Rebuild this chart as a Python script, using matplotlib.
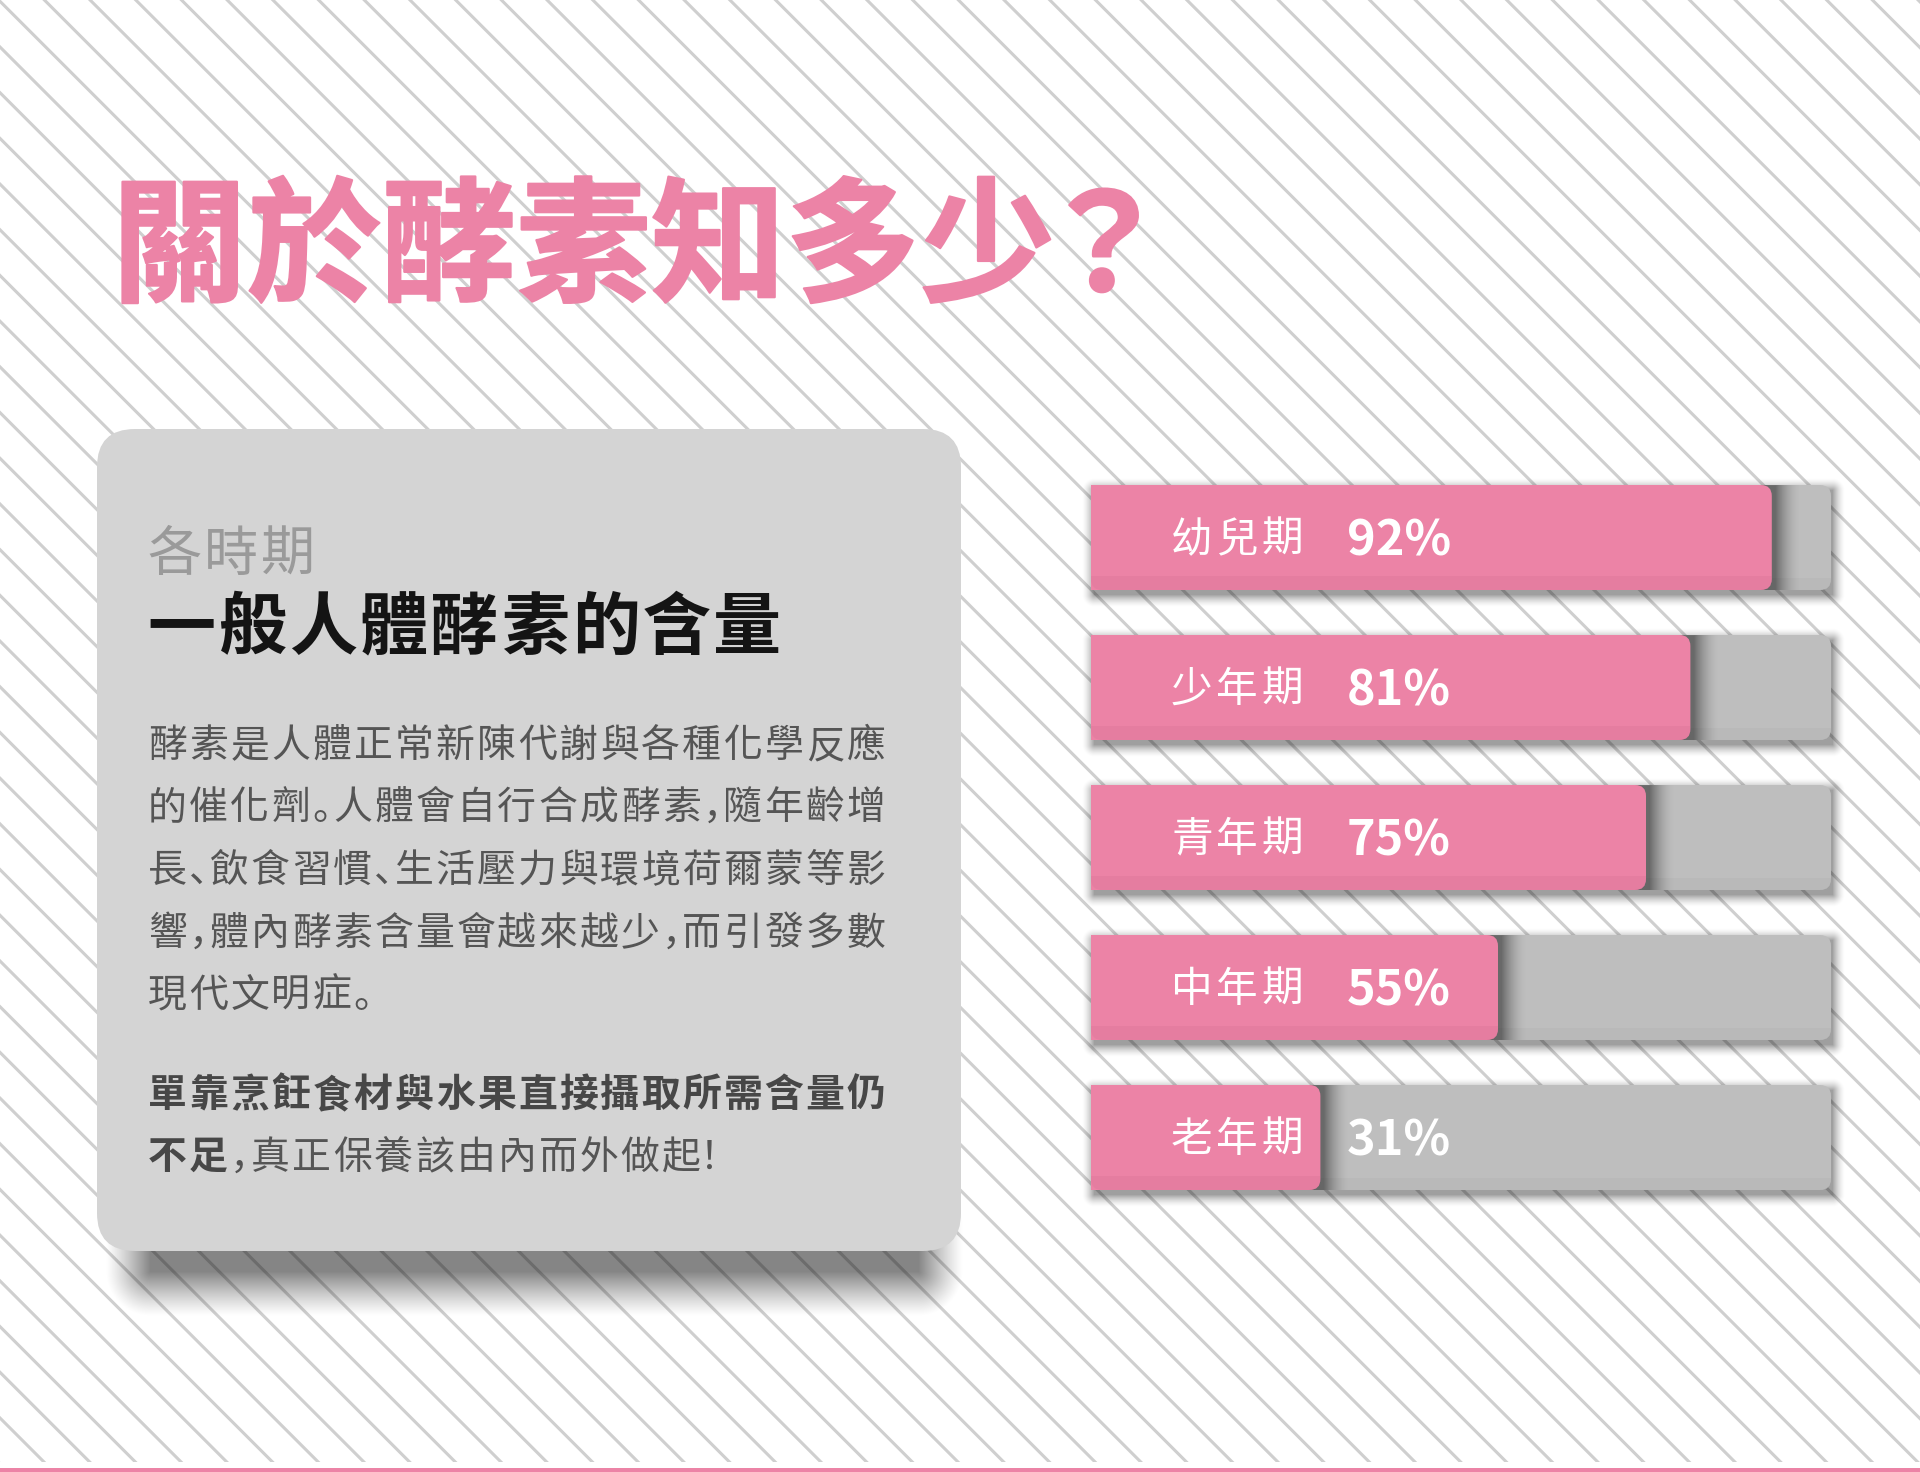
import numpy as np
import matplotlib
matplotlib.use("Agg")
import matplotlib.pyplot as plt
from matplotlib.patches import FancyBboxPatch, Rectangle
from matplotlib.collections import LineCollection
from matplotlib import transforms
import matplotlib.patheffects as pe

plt.rcParams['font.family'] = ['Noto Sans CJK TC', 'DejaVu Sans']
PUNCT_FAMILY = ['Noto Sans CJK JP', 'DejaVu Sans']

# ---------------- data ----------------
title_main = "關於酵素知多少"
title_mark = "？"
subtitle_small = "各時期"
subtitle_big = "一般人體酵素的含量"
body_lines = [
    "酵素是人體正常新陳代謝與各種化學反應",
    "的催化劑。人體會自行合成酵素，隨年齡增",
    "長、飲食習慣、生活壓力與環境荷爾蒙等影",
    "響，體內酵素含量會越來越少，而引發多數",
    "現代文明症。",
]
bold_line1 = "單靠烹飪食材與水果直接攝取所需含量仍"
bold_line2_bold = "不足"
bold_line2_rest = "，真正保養該由內而外做起！"

categories = ["幼兒期", "少年期", "青年期", "中年期", "老年期"]
values = [92, 81, 75, 55, 31]

PINK = "#EC83A6"
GRAY_BAR = "#BEBEBE"
BOX = "#D4D4D4"
W, H = 1920, 1472
HALF = "，。、！：；"
SHIFT = {"！": -0.32}

fig = plt.figure(figsize=(W / 100, H / 100), dpi=100)
fig.patch.set_facecolor("white")

bg = fig.add_axes([0, 0, 1, 1])
bg.set_xlim(0, W)
bg.set_ylim(H, 0)
bg.axis("off")

# bar axes: occupies pixel x 1091..1831, y 462.5..1212.5
BX0, BX1 = 1091, 1831
BY0, BY1 = 462.5, 1212.5
axb = fig.add_axes([BX0 / W, 1 - BY1 / H, (BX1 - BX0) / W, (BY1 - BY0) / H])
axb.set_xlim(0, 100)
axb.set_ylim(len(categories) - 0.5, -0.5)
axb.axis("off")
axb.patch.set_alpha(0)

# ---------------- background stripes ----------------
segs = []
s = 45.7
c = 47.0 - s * 60
while c < H + s:
    segs.append([(-10, -10 + c), (W + 10, W + 10 + c)])
    c += s
bg.add_collection(LineCollection(segs, colors="#CFCFCF", linewidths=2.2, zorder=0))

# bottom pink line
bg.add_patch(Rectangle((0, 1462), W, 6, color="white", zorder=1, lw=0))
bg.add_patch(Rectangle((0, 1468), W, 5, color=PINK, zorder=1, lw=0))


def soft_shadow(ax, px0, py0, px1, py1, blur, amax, z, color=(0, 0, 0), clip=None, power=1.6):
    """Draw a blurred rectangle given in pixel coords into axes ax."""
    X = np.arange(px0 - blur, px1 + blur + 1, 1.0)
    Y = np.arange(py0 - blur, py1 + blur + 1, 1.0)
    dx = np.maximum(np.maximum(px0 - X, X - px1), 0)
    dy = np.maximum(np.maximum(py0 - Y, Y - py1), 0)
    d = np.hypot(dx[None, :], dy[:, None])
    a = amax * np.clip(1 - d / blur, 0, 1) ** power
    img = np.zeros((len(Y), len(X), 4))
    img[..., 0], img[..., 1], img[..., 2] = color
    img[..., 3] = a
    inv = ax.transData.inverted()
    (l, t) = inv.transform((X[0] - 0.5, H - (Y[0] - 0.5)))
    (r, b) = inv.transform((X[-1] + 0.5, H - (Y[-1] + 0.5)))
    xl, yl = ax.get_xlim(), ax.get_ylim()
    im = ax.imshow(img, extent=[l, r, b, t], origin="upper", zorder=z,
                   interpolation="bilinear", aspect="auto")
    im.set_clip_on(clip is not None)
    if clip is not None:
        im.set_clip_path(clip)
    ax.set_xlim(xl)
    ax.set_ylim(yl)
    return im


# ---------------- gray text box ----------------
box_x0, box_y0, box_x1, box_y1 = 97, 429, 961, 1251
soft_shadow(bg, 150, 1225, 918, 1272, 45, 0.48, 2, power=1.2)
bg.add_patch(FancyBboxPatch((box_x0, box_y0), box_x1 - box_x0, box_y1 - box_y0,
                            boxstyle="round,pad=0,rounding_size=38",
                            fc=BOX, ec="none", zorder=3))


def draw_chars(ax, x, y, text, size, adv, color, weight="normal", transform=None):
    for ch in text:
        kw = {"family": PUNCT_FAMILY} if ch in HALF else {}
        ax.text(x + SHIFT.get(ch, 0) * adv, y, ch, fontsize=size, color=color,
                fontweight=weight, ha="left", va="baseline",
                transform=transform if transform else ax.transData,
                zorder=6, **kw)
        x += adv * (0.5 if ch in HALF else 1.0)
    return x


# title
thick = [pe.withStroke(linewidth=1.6, foreground=PINK)]
bg.text(112, 291, title_main, fontsize=97, fontweight="heavy", color=PINK,
        ha="left", va="baseline", zorder=6, path_effects=thick)
bg.text(1036, 291, title_mark, fontsize=97, fontweight="heavy", color=PINK,
        ha="left", va="baseline", zorder=6, path_effects=thick)

# subtitles
draw_chars(bg, 147, 571, subtitle_small, 39, 57, "#9A9A9A")
draw_chars(bg, 147, 649, subtitle_big, 49, 70.8, "#141414", weight="bold")

# body
body_base = [757, 819, 882, 945, 1007]
for ln, yb in zip(body_lines, body_base):
    draw_chars(bg, 148, yb, ln, 28, 41.1, "#555555")

draw_chars(bg, 148, 1107, bold_line1, 28, 41.1, "#474747", weight="bold")
xn = draw_chars(bg, 148, 1169, bold_line2_bold, 28, 41.1, "#474747", weight="bold")
draw_chars(bg, xn, 1169, bold_line2_rest, 28, 41.1, "#555555")

# ---------------- bars ----------------
px_per_x = (BX1 - BX0) / 100.0
px_per_y = (BY1 - BY0) / len(categories)
asp = px_per_x / px_per_y
r_px = 11
r_x = r_px / px_per_x
bh = 0.7
y_idx = np.arange(len(categories))

for i in y_idx:
    p0 = axb.transData.transform((0, i - bh / 2))
    p1 = axb.transData.transform((100, i + bh / 2))
    soft_shadow(axb, p0[0] + 4, H - p0[1] + 6, p1[0] + 1, H - p1[1] + 5, 13, 0.38, 1)

# gray full bars
axb.barh(y_idx, [100 - 2 * r_x] * len(categories), height=bh, color=GRAY_BAR, zorder=2, lw=0)
gray_patches = []
for i in y_idx:
    gp = FancyBboxPatch((0, i - bh / 2), 100, bh,
                        boxstyle=f"round,pad=0,rounding_size={r_x}",
                        mutation_aspect=asp, fc=GRAY_BAR, ec="none", zorder=2)
    axb.add_patch(gp)
    gray_patches.append(gp)
    bev = Rectangle((0, i + bh / 2 - 12 / px_per_y), 100, 12 / px_per_y,
                    fc="#A5A5A5", ec="none", alpha=0.18, zorder=2.5)
    axb.add_patch(bev)
    bev.set_clip_path(gp)

# pink shadow on gray
for i, v in enumerate(values):
    p0 = axb.transData.transform((0, i - bh / 2))
    p1 = axb.transData.transform((v, i + bh / 2))
    soft_shadow(axb, p0[0], H - p0[1] + 2, p1[0] + 3, H - p1[1] + 2, 26, 0.45, 3,
                clip=gray_patches[i], power=1.8)

# pink bars
axb.barh(y_idx, [v - 2 * r_x for v in values], height=bh, color=PINK, zorder=4, lw=0)
for i, v in enumerate(values):
    pp = FancyBboxPatch((0, i - bh / 2), v, bh,
                        boxstyle=f"round,pad=0,rounding_size={r_x}",
                        mutation_aspect=asp, fc=PINK, ec="none", zorder=4)
    axb.add_patch(pp)
    bev = Rectangle((0, i + bh / 2 - 14 / px_per_y), v, 14 / px_per_y,
                    fc="#C9668A", ec="none", alpha=0.2, zorder=4.5)
    axb.add_patch(bev)
    bev.set_clip_path(pp)

# labels
blend = transforms.blended_transform_factory(bg.transData, axb.transData)
for i, (cat, v) in enumerate(zip(categories, values)):
    for k, ch in enumerate(cat):
        axb.text(1171 + k * 45, i + 0.02, ch, transform=blend, fontsize=30,
                 color="white", fontweight="medium", ha="left", va="center", zorder=7)
    axb.text(1347, i + 0.02, f"{v}%", transform=blend, fontsize=35,
             color="white", fontweight="bold", ha="left", va="center", zorder=7)

fig.savefig("out.png", dpi=100, facecolor="white")
